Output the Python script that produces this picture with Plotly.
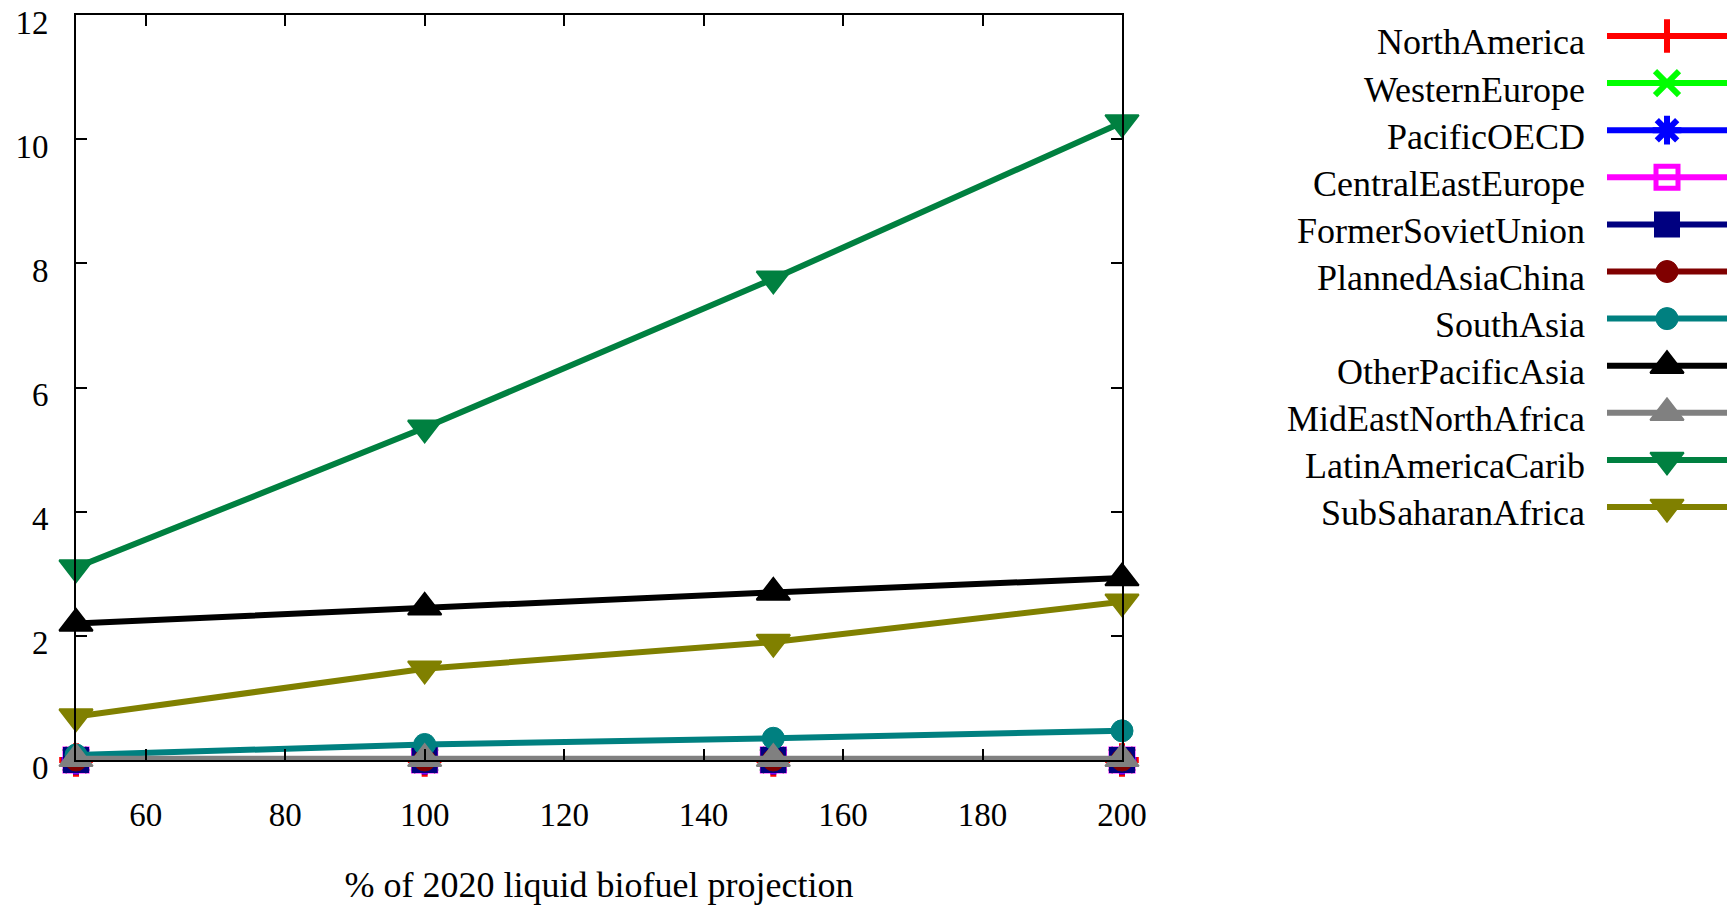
import plotly.graph_objects as go

x_pct = [50, 100, 150, 200]

series_names = ["NorthAmerica", "WesternEurope", "PacificOECD", "CentralEastEurope",
                "FormerSovietUnion", "PlannedAsiaChina", "SouthAsia", "OtherPacificAsia",
                "MidEastNorthAfrica", "LatinAmericaCarib", "SubSaharanAfrica"]

north_america = [0.0, 0.0, 0.0, 0.0]
western_europe = [0.0, 0.0, 0.0, 0.0]
pacific_oecd = [0.0, 0.0, 0.0, 0.0]
central_east_europe = [0.0, 0.0, 0.0, 0.0]
former_soviet_union = [0.0, 0.0, 0.0, 0.0]
planned_asia_china = [0.0, 0.0, 0.0, 0.0]
south_asia = [0.08, 0.25, 0.35, 0.47]
other_pacific_asia = [2.2, 2.46, 2.7, 2.93]
mideast_north_africa = [0.02, 0.02, 0.02, 0.02]
latin_america_carib = [3.1, 5.35, 7.75, 10.27]
sub_saharan_africa = [0.7, 1.47, 1.9, 2.55]

values = [north_america, western_europe, pacific_oecd, central_east_europe,
          former_soviet_union, planned_asia_china, south_asia, other_pacific_asia,
          mideast_north_africa, latin_america_carib, sub_saharan_africa]

colors = ["#ff0000", "#00ff00", "#0000ff", "#ff00ff", "#000080", "#800000",
          "#008080", "#000000", "#808080", "#008040", "#808000"]
symbols = ["cross-thin", "x-thin", "asterisk", "square-open", "square", "circle",
           "circle", "triangle-up", "triangle-up", "triangle-down", "triangle-down"]

x_ticks = [60, 80, 100, 120, 140, 160, 180, 200]
y_ticks = [0, 2, 4, 6, 8, 10, 12]

FONT = "Liberation Serif"
LW = 6


def marker_for(sym, col):
    if sym in ("cross-thin", "x-thin", "asterisk"):
        return dict(symbol=sym, size=24, color=col, line=dict(color=col, width=6))
    if sym == "square-open":
        return dict(symbol=sym, size=22, color=col, line=dict(color=col, width=5))
    if sym.startswith("triangle"):
        return dict(symbol=sym, size=29, color=col, line=dict(color=col, width=2))
    if sym == "square":
        return dict(symbol=sym, size=24, color=col, line=dict(color=col, width=2))
    return dict(symbol=sym, size=22, color=col, line=dict(color=col, width=1))


fig = go.Figure()
for name, ys, col, sym in zip(series_names, values, colors, symbols):
    fig.add_trace(go.Scatter(x=x_pct, y=ys, mode="lines+markers", name=name,
                             line=dict(color=col, width=LW),
                             marker=marker_for(sym, col),
                             cliponaxis=False, showlegend=False,
                             xaxis="x", yaxis="y"))

# custom legend (text left of the sample, gnuplot style); x2 units are pixels
for i, (name, col, sym) in enumerate(zip(series_names, colors, symbols)):
    fig.add_trace(go.Scatter(x=[0, 120], y=[i, i], mode="lines",
                             line=dict(color=col, width=LW), showlegend=False,
                             hoverinfo="skip", xaxis="x2", yaxis="y2", cliponaxis=False))
    fig.add_trace(go.Scatter(x=[60], y=[i], mode="markers",
                             marker=marker_for(sym, col), showlegend=False,
                             hoverinfo="skip", xaxis="x2", yaxis="y2", cliponaxis=False))
    fig.add_trace(go.Scatter(x=[-22], y=[i + 0.2], mode="text", text=[name],
                             textposition="middle left",
                             textfont=dict(family=FONT, size=36, color="#000000"),
                             showlegend=False, hoverinfo="skip",
                             xaxis="x2", yaxis="y2", cliponaxis=False))

W, H = 1735, 905
ml, mr, mt, mb = 76, 8, 15, 145
pw = W - ml - mr
ph = H - mt - mb
main_right = (1122 - ml) / pw

axis_common = dict(ticks="inside", ticklen=11, tickwidth=1.5, tickcolor="#000000",
                   mirror="ticks", showline=True, linecolor="#000000", linewidth=2,
                   showgrid=False, zeroline=False, ticklabeloverflow="allow",
                   automargin=False,
                   tickfont=dict(family=FONT, size=33, color="#000000"))

fig.update_layout(
    width=W, height=H,
    margin=dict(l=ml, r=mr, t=mt, b=mb, autoexpand=False),
    paper_bgcolor="white", plot_bgcolor="white",
    font=dict(family=FONT, size=33, color="#000000"),
    xaxis=dict(domain=[0, main_right], range=[50, 200], tickvals=x_ticks,
               ticklabelstandoff=24,
               title=dict(text="% of 2020 liquid biofuel projection",
                          font=dict(family=FONT, size=36), standoff=42),
               **axis_common),
    yaxis=dict(domain=[0, 1], range=[0, 12], tickvals=y_ticks,
               ticklabelstandoff=19, ticklabelshift=7,
               **axis_common),
    xaxis2=dict(domain=[(1207 - ml) / pw, (1727 - ml) / pw], range=[-400, 120],
                visible=False, anchor="y2"),
    yaxis2=dict(domain=[(760 - 530) / ph, 1.0], range=[10.488, -0.446],
                visible=False, anchor="x2"),
)

fig.write_html("out.html")
